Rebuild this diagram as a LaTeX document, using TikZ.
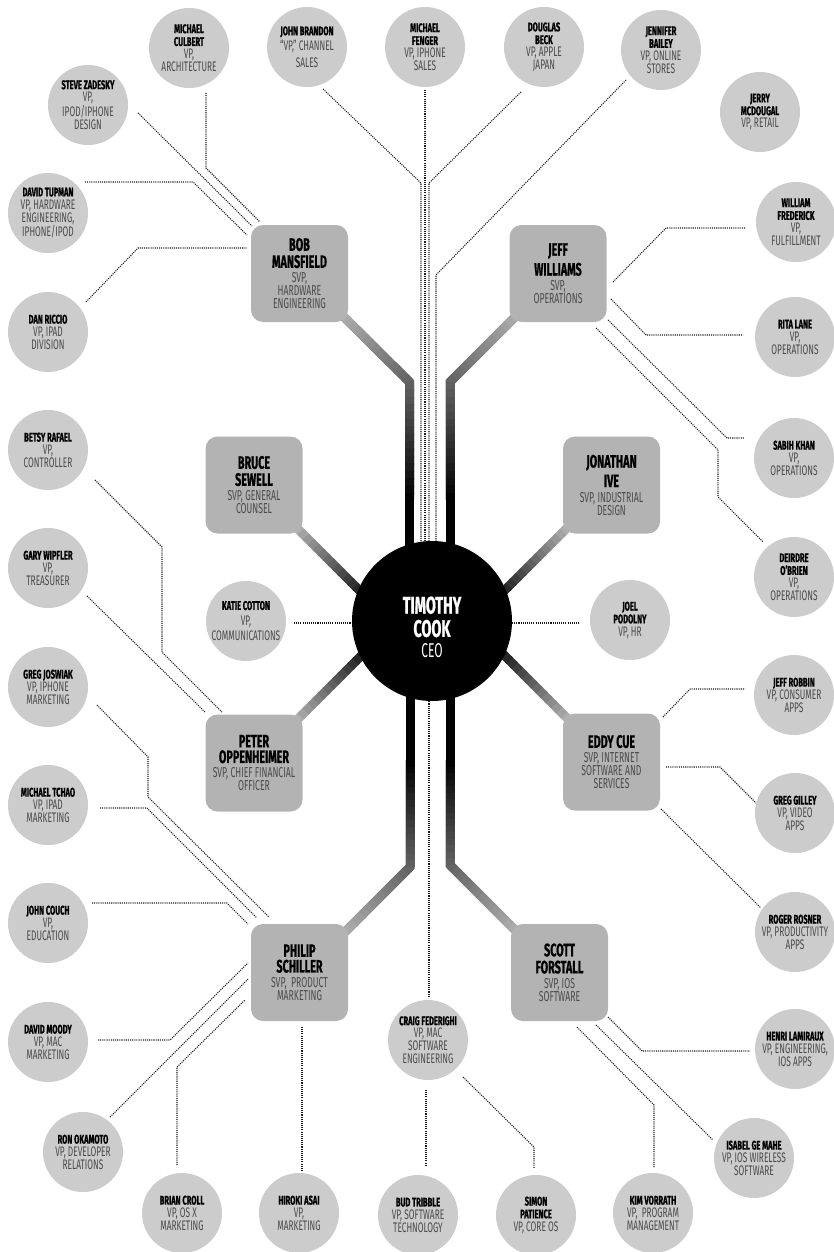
\documentclass[tikz,border=0pt]{standalone}
\usepackage{fontspec}
\setmainfont{Fira Sans}[FakeStretch=0.6,BoldFeatures={FakeBold=0.8}]
\usetikzlibrary{calc}
\definecolor{circ}{HTML}{CCCCCC}
\definecolor{boxc}{HTML}{B3B3B3}
\definecolor{ttl}{HTML}{4A4A4A}
\definecolor{dotc}{HTML}{1A1A1A}
\newcommand\nm[1]{{\color{black}\bfseries\fontsize{9.4}{9.4}\selectfont #1}}
\newcommand\bnm[1]{{\color{black}\bfseries\fontsize{13.5}{11.5}\selectfont #1}}
\newcommand\cnm[1]{{\color{white}\bfseries\fontsize{18}{17}\selectfont #1}}
\newcommand\gradline[4]{%
  \foreach \k in {0,...,15}{%
    \pgfmathsetmacro\ta{\k/16}%
    \pgfmathsetmacro\tb{min((\k+1.3)/16,1)}%
    \pgfmathsetmacro\cc{#3+(#4-#3)*(\k+0.5)/16}%
    \draw[line width=6.75pt, black!\cc!boxc] ($(#1)!\ta!(#2)$) -- ($(#1)!\tb!(#2)$);
  }%
}
\tikzset{
  vp/.style={circle, fill=circ, minimum size=60pt, inner sep=0pt, align=center,
    text=ttl, font=\fontsize{10.4}{9.6}\selectfont},
  svp/.style={rectangle, rounded corners=9pt, fill=boxc, minimum size=72.75pt,
    inner sep=0pt, align=center, text=ttl, font=\fontsize{10.8}{9.75}\selectfont},
  ceo/.style={circle, fill=black, minimum size=120pt, inner sep=0pt, align=center,
    text=white, font=\fontsize{15}{16.5}\selectfont},
  dotline/.style={draw=dotc, line width=0.8pt, dash pattern=on 0.8pt off 0.8pt},
  thick bend/.style={line width=6.75pt, line join=miter, draw=black!45!boxc}
}
\begin{document}
\begin{tikzpicture}[x=0.75pt,y=-0.75pt]
\useasboundingbox (0,0) rectangle (833,1252);

% ---------- dotted connectors ----------
\draw[dotline] (206,93) -- (206,168) -- (260,222);          % Culbert
\draw[dotline] (138,113) -- (252,226);                      % Zadesky
\draw[dotline] (85,182) -- (193,182) -- (247,235);          % Tupman
\draw[dotline] (86,302) -- (138,248) -- (247,248);          % Riccio
\draw[dotline] (323,89) -- (421,183) -- (421,580);          % Brandon
\draw[dotline] (425,90) -- (425,580);                       % Fenger
\draw[dotline] (521,92) -- (429,183) -- (429,580);          % Beck
\draw[dotline] (626,80) -- (436,275) -- (436,580);          % Bailey
\draw[dotline] (613,282) -- (666,228) -- (745,228);         % Frederick
\draw[dotline] (611,299) -- (646,335) -- (743,335);         % Lane
\draw[dotline] (608,320) -- (727,438) -- (745,438);         % Khan
\draw[dotline] (596,328) -- (718,450) -- (718,497) -- (763,542); % O'Brien
\draw[dotline] (294,623) -- (370,623);                      % Cotton
\draw[dotline] (495,623) -- (580,623);                      % Podolny
\draw[dotline] (95,480) -- (162,547) -- (162,652) -- (222,712);  % Rafael
\draw[dotline] (87,596) -- (205,712);                       % Wipfler
\draw[dotline] (97,705) -- (148,757) -- (148,797) -- (269,917);  % Joswiak
\draw[dotline] (100,808) -- (147,808) -- (257,918);         % Tchao
\draw[dotline] (92,903) -- (227,903) -- (248,924);          % Couch
\draw[dotline] (98,1040) -- (170,1040) -- (248,963);        % Moody
\draw[dotline] (110,1117) -- (248,979);                     % Okamoto
\draw[dotline] (177,1165) -- (177,1067) -- (245,1000);      % Croll
\draw[dotline] (302,1027) -- (302,1172);                    % Asai
\draw[dotline] (429,680) -- (429,997);                      % Federighi
\draw[dotline] (426,1090) -- (426,1165);                    % Tribble
\draw[dotline] (463,1077) -- (534,1147) -- (534,1168);      % Patience
\draw[dotline] (608,1017) -- (642,1051) -- (750,1051);      % Lamiraux
\draw[dotline] (596,1025) -- (713,1140);                    % Ge Mahe
\draw[dotline] (577,1027) -- (654,1105) -- (654,1167);      % Vorrath
\draw[dotline] (663,717) -- (690,689) -- (745,689);         % Robbin
\draw[dotline] (666,767) -- (720,767) -- (756,803);         % Gilley
\draw[dotline] (661,809) -- (761,908);                      % Rosner

% ---------- thick connectors ----------
\coordinate (bobA) at (338,311);   \coordinate (bobB) at (409.5,382);
\coordinate (bobC) at (409.5,500); \coordinate (bobD) at (409.5,600);
\coordinate (jefA) at (521,311);   \coordinate (jefB) at (450,382);
\coordinate (jefC) at (450,500);   \coordinate (jefD) at (450,600);
\coordinate (phiA) at (341,936);   \coordinate (phiB) at (410,867);
\coordinate (phiC) at (410,760);   \coordinate (phiD) at (410,640);
\coordinate (scoA) at (519,934);   \coordinate (scoB) at (450,865);
\coordinate (scoC) at (450,760);   \coordinate (scoD) at (450,640);
\coordinate (bruA) at (296,527);   \coordinate (bruB) at (375,606);
\coordinate (jonA) at (568,527);   \coordinate (jonB) at (489,606);
\coordinate (petA) at (296,721);   \coordinate (petB) at (375,642);
\coordinate (eddA) at (569,720);   \coordinate (eddB) at (490,641);

\foreach \p in {bob,jef,phi,sco}{
  \draw[thick bend] (\p A) -- (\p B) -- (\p C);
  \gradline{\p A}{\p B}{0}{45}
  \gradline{\p B}{\p C}{45}{100}
  \draw[line width=6.75pt, black] (\p C) -- (\p D);
}
\foreach \p in {bru,jon,pet,edd}{
  \gradline{\p A}{\p B}{0}{100}
}

% ---------- SVP boxes ----------
\node[svp] (mansfield) at (299.5,273.5) {\bnm{BOB}\\[2pt]\bnm{MANSFIELD}\\[1.5pt]SVP,\\HARDWARE\\ENGINEERING};
\node[svp] (williams) at (558,273.5) {\bnm{JEFF}\\[2pt]\bnm{WILLIAMS}\\[1.5pt]SVP,\\OPERATIONS};
\node[svp] (sewell) at (254,485) {\bnm{BRUCE}\\[2pt]\bnm{SEWELL}\\[1.5pt]SVP, GENERAL\\COUNSEL};
\node[svp] (ive) at (611.5,485) {\bnm{JONATHAN}\\[2pt]\bnm{IVE}\\[1.5pt]SVP, INDUSTRIAL\\DESIGN};
\node[svp] (oppenheimer) at (254,763) {\bnm{PETER}\\[2pt]\bnm{OPPENHEIMER}\\[1.5pt]SVP, CHIEF FINANCIAL\\OFFICER};
\node[svp] (cue) at (611.5,762) {\bnm{EDDY CUE}\\[1.5pt]SVP, INTERNET\\SOFTWARE AND\\SERVICES};
\node[svp] (schiller) at (299.5,972.5) {\bnm{PHILIP}\\[2pt]\bnm{SCHILLER}\\[1.5pt]SVP,\ \ PRODUCT\\MARKETING};
\node[svp] (forstall) at (559.5,972.5) {\bnm{SCOTT}\\[2pt]\bnm{FORSTALL}\\[1.5pt]SVP, IOS\\SOFTWARE};

% ---------- CEO ----------
\node[ceo] (cook) at (432,621) {\cnm{\rule{0pt}{22pt}TIMOTHY}\\[1pt]\cnm{COOK}\\[-1pt]CEO};

% ---------- VP circles ----------
\node[vp] (culbert) at (189,48) {\nm{MICHAEL}\\\nm{CULBERT}\\VP,\\ARCHITECTURE};
\node[vp] (brandon) at (307,47) {\nm{JOHN BRANDON}\\[2pt]“VP,” CHANNEL\\[3pt]SALES};
\node[vp] (fenger) at (425,47) {\nm{MICHAEL}\\\nm{FENGER}\\VP, IPHONE\\SALES};
\node[vp] (beck) at (544,47) {\nm{DOUGLAS}\\\nm{BECK}\\VP, APPLE\\JAPAN};
\node[vp] (bailey) at (661,50) {\nm{JENNIFER}\\\nm{BAILEY}\\VP, ONLINE\\STORES};
\node[vp] (mcdougal) at (760,112) {\nm{JERRY}\\\nm{MCDOUGAL}\\VP, RETAIL};
\node[vp] (frederick) at (796,222) {\nm{WILLIAM}\\\nm{FREDERICK}\\VP,\\FULFILLMENT};
\node[vp] (lane) at (795,337) {\nm{RITA LANE}\\VP,\\OPERATIONS};
\node[vp] (khan) at (794,458) {\nm{SABIH KHAN}\\VP,\\OPERATIONS};
\node[vp] (obrien) at (794,577) {\nm{DEIRDRE}\\\nm{O’BRIEN}\\VP,\\OPERATIONS};
\node[vp] (podolny) at (630,620) {\nm{JOEL}\\\nm{PODOLNY}\\VP, HR};
\node[vp] (robbin) at (794,695) {\nm{JEFF ROBBIN}\\VP, CONSUMER\\APPS};
\node[vp] (gilley) at (795,813) {\nm{GREG GILLEY}\\VP, VIDEO\\APPS};
\node[vp] (rosner) at (795,932) {\nm{ROGER ROSNER}\\VP, PRODUCTIVITY\\APPS};
\node[vp] (lamiraux) at (795,1049) {\nm{HENRI LAMIRAUX}\\VP, ENGINEERING,\\IOS APPS};
\node[vp] (gemahe) at (754,1158) {\nm{ISABEL GE MAHE}\\VP, IOS WIRELESS\\SOFTWARE};
\node[vp] (vorrath) at (653,1213) {\nm{KIM VORRATH}\\VP,\ \ PROGRAM\\MANAGEMENT};
\node[vp] (patience) at (536,1215) {\nm{SIMON}\\\nm{PATIENCE}\\VP, CORE OS};
\node[vp] (tribble) at (418,1215) {\nm{BUD TRIBBLE}\\VP, SOFTWARE\\TECHNOLOGY};
\node[vp] (federighi) at (428,1040) {\nm{CRAIG FEDERIGHI}\\VP, MAC\\SOFTWARE\\ENGINEERING};
\node[vp] (asai) at (299,1213) {\nm{HIROKI ASAI}\\VP,\\MARKETING};
\node[vp] (croll) at (182,1213) {\nm{BRIAN CROLL}\\VP, OS X\\MARKETING};
\node[vp] (okamoto) at (83,1152) {\nm{RON OKAMOTO}\\VP, DEVELOPER\\RELATIONS};
\node[vp] (moody) at (48,1042) {\nm{DAVID MOODY}\\VP, MAC\\MARKETING};
\node[vp] (couch) at (48,923) {\nm{JOHN COUCH}\\VP,\\EDUCATION};
\node[vp] (tchao) at (48,805) {\nm{MICHAEL TCHAO}\\VP, IPAD\\MARKETING};
\node[vp] (joswiak) at (48,687) {\nm{GREG JOSWIAK}\\VP, IPHONE\\MARKETING};
\node[vp] (wipfler) at (48,568) {\nm{GARY WIPFLER}\\VP,\\TREASURER};
\node[vp] (rafael) at (48,450) {\nm{BETSY RAFAEL}\\VP,\\CONTROLLER};
\node[vp] (cotton) at (246,621) {\nm{KATIE COTTON}\\[2pt]VP,\\[2pt]COMMUNICATIONS};
\node[vp] (riccio) at (48,332) {\nm{DAN RICCIO}\\VP, IPAD\\DIVISION};
\node[vp] (tupman) at (48,213) {\nm{DAVID TUPMAN}\\VP, HARDWARE\\ENGINEERING,\\IPHONE/IPOD};
\node[vp] (zadesky) at (88,105) {\nm{STEVE ZADESKY}\\VP,\\IPOD/IPHONE\\DESIGN};
\end{tikzpicture}
\end{document}
